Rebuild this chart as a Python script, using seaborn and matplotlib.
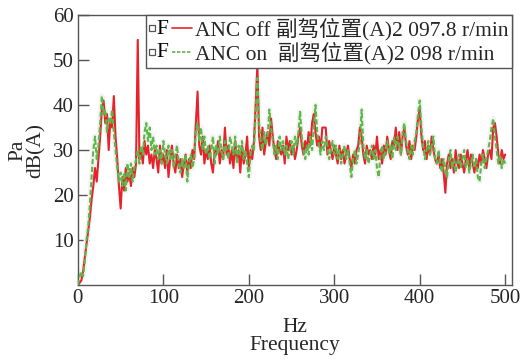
import numpy as np
import pandas as pd
import seaborn as sns
import matplotlib
matplotlib.use("Agg")
import matplotlib.pyplot as plt
from matplotlib.legend_handler import HandlerBase
from matplotlib.patches import Rectangle
from matplotlib.lines import Line2D
from matplotlib.text import Text

# ---- data (dB(A) read every 2 Hz) ----
anc_off = [0, 0.5, 1, 3, 6, 9,
    12, 15, 19, 22, 26,  23, 28, 33, 39, 41,  36, 38, 30, 37, 35,  42, 33, 28, 22, 17,
    24, 21, 26, 23, 25,  22, 26, 24, 27, 54.5,  28, 30, 27, 32, 29,  31, 27, 29, 26, 30,
    28, 25, 31, 27, 29,
    26, 30, 24, 28, 31,  27, 25, 29, 26, 28,  24, 27, 29, 25, 28,  26, 30, 28, 36, 43,
    31, 29, 33, 27, 30,  28, 31, 27, 25, 30,  29, 32, 27, 30, 28,  35, 29, 31, 27, 30,
    26, 32, 28, 30, 25,  31, 27, 29, 33, 26,
    30, 28, 32, 40, 49,  33, 30, 35, 29, 32,  34, 31, 37, 33, 30,  28, 32, 30, 29, 31,
    27, 33, 30, 32, 29,  31, 28, 30, 33, 35,  31, 29, 32, 30, 34,  31, 36, 38, 34, 31,
    33, 30, 35, 35, 35,  29, 32, 30, 28, 31,
    29, 27, 31, 28, 30,  27, 29, 31, 28, 26,  29, 27, 30, 31, 35,  33, 29, 27, 31, 29,
    30, 28, 31, 29, 33,  28, 30, 27, 31, 29,  33, 30, 28, 32, 31,  35, 30, 34, 29, 33,
    35, 31, 29, 32, 28,  31, 30, 33, 37, 39,
    33, 30, 32, 28, 31,  29, 33, 30, 28, 27,  29, 26, 28, 25, 20.5,  27, 29, 26, 28, 25,
    30, 27, 26, 29, 27,  25, 28, 30, 26, 29,  27, 25, 28, 26, 29,  27, 30, 28, 26, 29,
    30, 28, 35, 36, 33,  29, 27, 30, 28, 29]

anc_on = [0, 2, 3, 2, 5, 10,
    13, 18, 24, 30, 33,  28, 31, 36, 42, 38,  39, 34, 37, 36, 39,  34, 30, 26, 23, 25,
    22, 25, 21, 27, 24,  27, 23, 26, 28, 30,  27, 31, 29, 34, 36,  32, 35, 30, 33, 29,
    31, 28, 30, 27, 32,
    29, 27, 31, 28, 30,  26, 29, 31, 27, 25,  28, 26, 29, 23, 27,  29, 26, 28, 34, 36,
    32, 35, 30, 33, 29,  31, 28, 30, 33, 27,  31, 29, 33, 30, 28,  32, 30, 28, 33, 31,
    29, 33, 27, 31, 29,  32, 28, 30, 27, 24,
    29, 31, 30, 38, 46,  36, 32, 30, 34, 31,  33, 39, 35, 32, 29,  31, 28, 33, 30, 32,
    29, 31, 28, 30, 32,  29, 33, 31, 34, 38.5,  33, 30, 28, 31, 29,  33, 30, 35, 40, 34,
    31, 29, 32, 30, 33,  31, 28, 30, 32, 29,
    31, 28, 30, 27, 29,  31, 28, 30, 27, 24,  28, 30, 27, 29, 32,  39, 31, 28, 30, 27,
    29, 31, 28, 30, 26,  24, 29, 31, 28, 30,  32, 29, 31, 28, 33,  30, 33, 31, 29, 34,
    36, 32, 30, 28, 31,  29, 32, 34, 38, 41,
    35, 31, 28, 30, 32,  29, 31, 33, 28, 27,  30, 27, 25, 28, 26,  24, 28, 30, 26, 28,
    25, 27, 29, 26, 28,  30, 26, 28, 25, 27,  29, 26, 28, 24, 23,  27, 29, 26, 28, 30,
    32, 35, 37, 33, 30,  27, 29, 26, 28, 27]

freq = list(range(0, 501, 2))
assert len(freq) == len(anc_off) == len(anc_on)

labels = ["ANC off 副驾位置(A)2 097.8 r/min", "ANC on  副驾位置(A)2 098 r/min"]
x_ticks = [0, 100, 200, 300, 400, 500]
y_ticks = [10, 20, 30, 40, 50, 60]

df = pd.DataFrame({"freq": freq, "off": anc_off, "on": anc_on})

sns.set_theme(style="ticks")
FAM = ["Liberation Serif", "Noto Sans CJK SC", "DejaVu Sans"]
plt.rcParams["font.family"] = FAM
plt.rcParams["axes.unicode_minus"] = False

fig = plt.figure(figsize=(5.23, 3.59), dpi=100)
ax = fig.add_axes([0.149, 0.206, 0.830, 0.752])

RED = "#e8222a"
GREEN = "#5cb848"
HALO = "#f3f3f3"

sns.lineplot(data=df, x="freq", y="on", ax=ax, color=HALO, lw=4, zorder=1, legend=False)
sns.lineplot(data=df, x="freq", y="off", ax=ax, color=RED, lw=1.5, zorder=2, legend=False)
sns.lineplot(data=df, x="freq", y="on", ax=ax, color=GREEN, lw=1.5, zorder=3,
             linestyle=(0, (2.5, 1.2)), legend=False)

ax.set_xlim(0, 508)
ax.set_ylim(0, 60)
ax.set_xticks(x_ticks)
ax.set_yticks(y_ticks)
ax.tick_params(direction="in", length=8, width=1, color="#555555",
               labelsize=15, pad=3, top=False, right=False)
for lab in ax.get_xticklabels() + ax.get_yticklabels():
    lab.set_family(FAM)
for s in ax.spines.values():
    s.set_color("#555555")
    s.set_linewidth(1.0)
    s.set_visible(True)

ax.set_xlabel("Hz\nFrequency", fontsize=15.5, labelpad=7, linespacing=0.95)
ax.set_ylabel("Pa\ndB(A)", fontsize=15.5, labelpad=5, linespacing=0.95)


class FHandler(HandlerBase):
    def __init__(self, color, ls):
        super().__init__()
        self.color = color
        self.ls = ls

    def create_artists(self, legend, orig_handle, xdescent, ydescent, width,
                       height, fontsize, trans):
        cy = height / 2 - ydescent
        s = 4.2
        sq = Rectangle((-xdescent, cy - s / 2), s, s, facecolor="white",
                       edgecolor="#555555", lw=0.9, transform=trans)
        t = Text(-xdescent + s + 1.0, cy - 0.5, "F", fontsize=fontsize,
                 family=FAM, va="center", ha="left", color="black")
        t.set_transform(trans)
        ln = Line2D([-xdescent + 16.5, -xdescent + width], [cy, cy],
                    color=self.color, lw=1.2, linestyle=self.ls, transform=trans)
        return [sq, t, ln]


h1 = Line2D([], [], color=RED)
h2 = Line2D([], [], color=GREEN)
leg = ax.legend([h1, h2], labels, loc="upper right", bbox_to_anchor=(1.0, 1.0),
                borderaxespad=0, frameon=True, fancybox=False,
                edgecolor="#555555", framealpha=1, handlelength=2.0,
                handletextpad=0.15, labelspacing=0.05, borderpad=0.15,
                handler_map={h1: FHandler(RED, "-"), h2: FHandler(GREEN, (0, (2, 1)))},
                prop={"family": FAM, "size": 15.5})
leg.get_frame().set_linewidth(1.0)

fig.savefig("out.png", dpi=100)
